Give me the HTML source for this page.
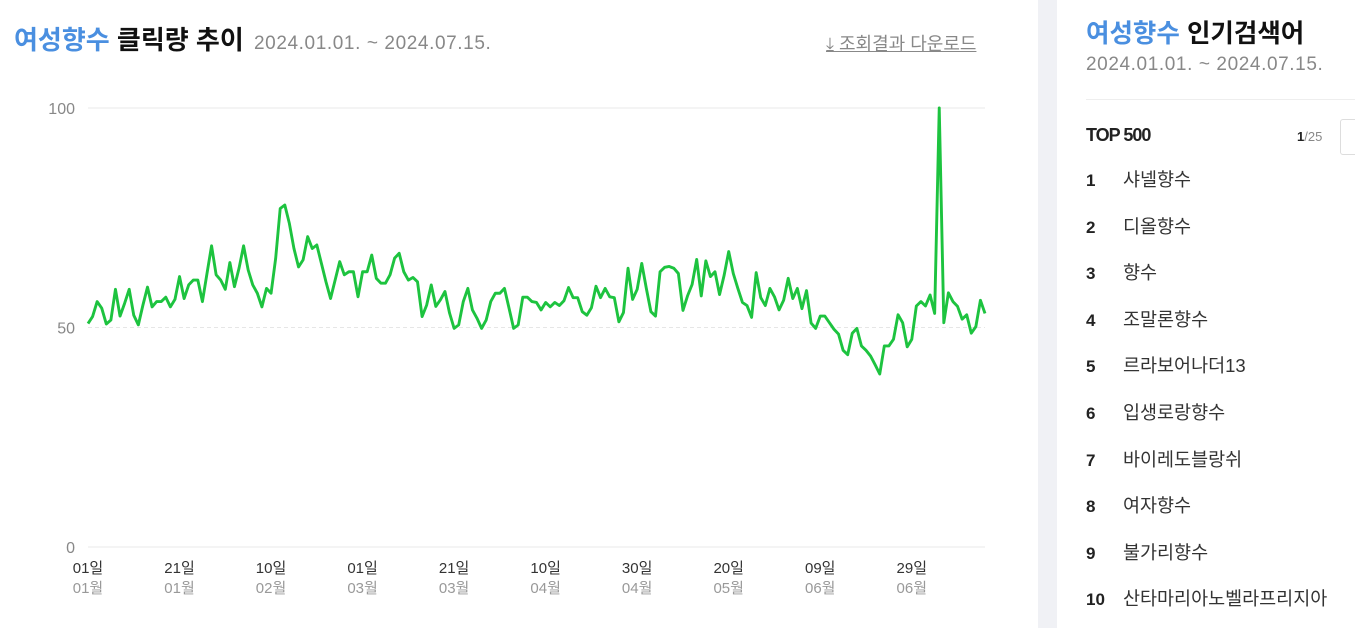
<!DOCTYPE html>
<html><head><meta charset="utf-8"><style>
body{margin:0;width:1355px;height:628px;overflow:hidden;background:#fff;font-family:"Liberation Sans","Noto Sans CJK KR",sans-serif;position:relative}
.t{position:absolute;white-space:nowrap}
</style></head><body>
<div class="t" style="left:14px;top:20px;font-size:26px;font-weight:bold;letter-spacing:0"><span style="color:#4a8fe0">여성향수</span> <span style="color:#111">클릭량 추이</span> <span style="font-size:19px;font-weight:normal;color:#888;letter-spacing:0.6px;margin-left:3px">2024.01.01. ~ 2024.07.15.</span></div>
<div class="t" style="left:826px;top:30px;font-size:18px;color:#888;text-decoration:underline">⤓ 조회결과 다운로드</div>
<svg id="chart" width="1000" height="628" style="position:absolute;left:0;top:0"></svg>
<div style="position:absolute;left:1038px;top:0;width:19px;height:628px;background:#f0f1f5"></div>
<div class="t" style="left:1086px;top:13px;font-size:25.5px;font-weight:bold;letter-spacing:0"><span style="color:#4a8fe0">여성향수</span> <span style="color:#111">인기검색어</span></div>
<div class="t" style="left:1086px;top:54px;font-size:19px;color:#888;letter-spacing:0.6px">2024.01.01. ~ 2024.07.15.</div>
<div style="position:absolute;left:1086px;top:99px;width:269px;height:1px;background:#eee"></div>
<div class="t" style="left:1086px;top:125px;font-size:18px;font-weight:bold;color:#222;letter-spacing:-1px">TOP 500</div>
<div class="t" style="left:1297px;top:129px;font-size:13px;color:#888"><b style="color:#222">1</b>/25</div>
<div style="position:absolute;left:1340px;top:119px;width:30px;height:34px;border:1px solid #ddd;border-radius:3px"></div>
<div id="list"></div>
<script>
const values=[50.9,52.5,55.9,54.4,50.8,51.7,58.7,52.6,55.5,58.7,52.8,50.6,55.1,59.2,54.7,55.9,55.9,56.9,54.7,56.4,61.6,56.6,59.7,60.8,60.8,55.9,62.3,68.6,62,60.8,58.7,64.8,59.3,63.5,68.6,63.1,59.7,57.8,54.7,58.9,57.8,65.7,77.1,77.9,73.7,68,63.8,65.4,70.7,68,
68.8,64.6,60.4,56.6,60.8,65,62,62.7,62.7,57,62.7,62.7,66.5,61.2,60.1,60.1,62,65.8,66.9,62.7,60.8,61.4,60.4,52.5,55.1,59.7,54.8,56.3,58.2,53.3,49.8,50.6,55.9,58.9,54,52.1,49.8,51.7,55.9,57.8,57.8,58.9,54.4,49.8,50.6,56.9,56.9,55.9,
55.7,54,55.7,54.7,55.7,55,56.1,59.1,56.8,56.8,53.6,52.8,54.5,59.4,56.8,58.9,57,56.8,51.3,53.4,63.5,56.4,58.7,64.6,58.9,53.6,52.6,62.7,63.7,63.9,63.5,62.3,53.9,57.2,59.8,65.5,57.2,65.2,61.6,62.7,57.5,61.9,67.3,62.3,58.9,55.7,55,52.3,62.5,56.8,55,
58.9,57,54,56.2,61.2,56.6,58.9,54.3,58.4,51,49.8,52.6,52.6,51.1,49.6,48.5,44.8,43.8,48.7,49.8,45.8,44.8,43.5,41.5,39.4,45.8,45.8,47.3,52.9,51.1,45.6,47.3,54.9,55.9,54.9,57.4,53.2,100,51.1,57.9,55.9,54.8,51.9,52.9,48.7,50.2,56.2,53.2];
const tickDays=[0,20,40,60,80,100,120,140,160,180];
const tickDayLabels=["01일","21일","10일","01일","21일","10일","30일","20일","09일","29일"];
const tickMonthLabels=["01월","01월","02월","03월","03월","04월","04월","05월","06월","06월"];
const yTicks=[0,50,100];
const keywords=["샤넬향수","디올향수","향수","조말론향수","르라보어나더13","입생로랑향수","바이레도블랑쉬","여자향수","불가리향수","산타마리아노벨라프리지아"];
const NS="http://www.w3.org/2000/svg",svg=document.getElementById('chart');
const X=d=>88+d*(985-88)/(values.length-1), Y=v=>547-v*4.39;
function el(t,a){const e=document.createElementNS(NS,t);for(const k in a)e.setAttribute(k,a[k]);svg.appendChild(e);return e;}
yTicks.forEach(v=>{
 const g=el('line',{x1:88,x2:985,y1:Y(v),y2:Y(v),stroke:v==50?'#e6e6e6':'#e8e8e8','stroke-dasharray':v==50?'4,3':'none'});
 
 
 const t=el('text',{x:75,y:Y(v)+6,'text-anchor':'end','font-size':16,fill:'#888'});t.textContent=v;
 
 
});
tickDays.forEach((d,i)=>{
 const a=el('text',{x:X(d),y:573,'text-anchor':'middle','font-size':15,fill:'#333'});a.textContent=tickDayLabels[i];
 
 
 const b=el('text',{x:X(d),y:593,'text-anchor':'middle','font-size':15,fill:'#999'});b.textContent=tickMonthLabels[i];
 
 
});
const p=el('polyline',{points:values.map((v,i)=>X(i)+','+Y(v)).join(' '),fill:'none',stroke:'#1dc33f','stroke-width':2.9,'stroke-linejoin':'round'});


const list=document.getElementById('list');
keywords.forEach((k,i)=>{
 const r=document.createElement('div');
 r.className='t';r.style.left='1086px';r.style.top=(166+i*46.6)+'px';r.style.fontSize='18.5px';
 r.innerHTML='<b style="display:inline-block;width:37px;color:#222;font-size:17px">'+(i+1)+'</b><span style="color:#333">'+k+'</span>';
 
 
 list.appendChild(r);
});
</script>
</body></html>
